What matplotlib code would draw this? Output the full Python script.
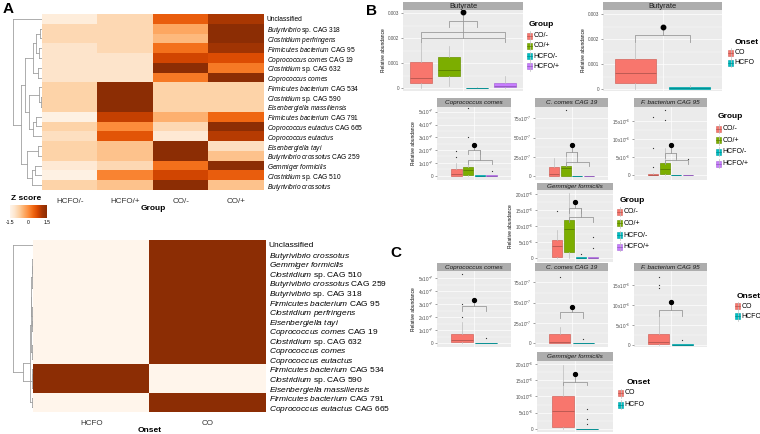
import numpy as np
import matplotlib
matplotlib.use("Agg")
import matplotlib.pyplot as plt
from matplotlib.colors import LinearSegmentedColormap, to_rgb
from matplotlib.patches import Rectangle

plt.rcParams.update({"font.family": "Liberation Sans", "mathtext.fontset": "custom",
                     "mathtext.rm": "Liberation Sans", "mathtext.it": "Liberation Sans:italic",
                     "mathtext.bf": "Liberation Sans:bold"})

# ---------------- data ----------------
GROUP_COLS = ["HCFO/-", "HCFO/+", "CO/-", "CO/+"]
TOP_ROWS = ["Unclassified",
            r"$\mathit{Butyrivibrio}$ sp. CAG 318",
            r"$\mathit{Clostridium\ perfringens}$",
            r"$\mathit{Firmicutes\ bacterium}$ CAG 95",
            r"$\mathit{Coprococcus\ comes}$ CAG 19",
            r"$\mathit{Clostridium}$ sp. CAG 632",
            r"$\mathit{Coprococcus\ comes}$",
            r"$\mathit{Firmicutes\ bacterium}$ CAG 534",
            r"$\mathit{Clostridium}$ sp. CAG 590",
            r"$\mathit{Eisenbergiella\ massiliensis}$",
            r"$\mathit{Firmicutes\ bacterium}$ CAG 791",
            r"$\mathit{Coprococcus\ eutactus}$ CAG 665",
            r"$\mathit{Coprococcus\ eutactus}$",
            r"$\mathit{Eisenbergiella\ tayi}$",
            r"$\mathit{Butyrivibrio\ crossotus}$ CAG 259",
            r"$\mathit{Gemmiger\ formicilis}$",
            r"$\mathit{Clostridium}$ sp. CAG 510",
            r"$\mathit{Butyrivibrio\ crossotus}$"]
Z_GROUP = [[-1.3, -0.9, 0.5, 1.1],
           [-0.9, -0.9, -0.3, 1.5],
           [-0.9, -0.9, -0.5, 1.5],
           [-1.1, -0.9, 0.3, 1.2],
           [-1.1, -1.1, 0.8, 0.7],
           [-1.1, -1.1, 1.5, 0.2],
           [-1.1, -1.1, 0.2, 1.5],
           [-0.8, 1.5, -0.8, -0.8],
           [-0.8, 1.5, -0.8, -0.8],
           [-0.8, 1.5, -0.8, -0.8],
           [-1.4, 0.9, -0.4, 0.4],
           [-0.8, 0.0, -0.9, 1.5],
           [-1.0, 0.6, -1.2, 1.0],
           [-0.8, -0.6, 1.5, -1.0],
           [-0.8, -0.6, 1.5, -0.6],
           [-1.2, -0.9, 0.3, 1.5],
           [-1.4, 0.1, 0.8, 0.5],
           [-0.8, -0.6, 1.5, -0.6]]
# linkage: (child a, child b, height), new nodes numbered from n
TOP_TREE = [(1, 2, 0.08), (3, 4, 0.12), (18, 19, 0.2), (5, 6, 0.15), (20, 21, 0.3),
            (8, 9, 0.04), (7, 23, 0.1), (10, 11, 0.2), (25, 12, 0.3), (24, 26, 0.45),
            (13, 14, 0.15), (15, 16, 0.25), (29, 17, 0.35), (28, 30, 0.5),
            (22, 27, 0.6), (32, 31, 0.72), (0, 33, 1.0)]

ONSET_COLS = ["HCFO", "CO"]
BOT_ROWS = ["Unclassified",
            r"$\mathit{Butyrivibrio\ crossotus}$",
            r"$\mathit{Gemmiger\ formicilis}$",
            r"$\mathit{Clostridium}$ sp. CAG 510",
            r"$\mathit{Butyrivibrio\ crossotus}$ CAG 259",
            r"$\mathit{Butyrivibrio}$ sp. CAG 318",
            r"$\mathit{Firmicutes\ bacterium}$ CAG 95",
            r"$\mathit{Clostridium\ perfringens}$",
            r"$\mathit{Eisenbergiella\ tayi}$",
            r"$\mathit{Coprococcus\ comes}$ CAG 19",
            r"$\mathit{Clostridium}$ sp. CAG 632",
            r"$\mathit{Coprococcus\ comes}$",
            r"$\mathit{Coprococcus\ eutactus}$",
            r"$\mathit{Firmicutes\ bacterium}$ CAG 534",
            r"$\mathit{Clostridium}$ sp. CAG 590",
            r"$\mathit{Eisenbergiella\ massiliensis}$",
            r"$\mathit{Firmicutes\ bacterium}$ CAG 791",
            r"$\mathit{Coprococcus\ eutactus}$ CAG 665"]
Z_ONSET = [[-1.5, 1.5]] * 13 + [[1.5, -1.5]] * 3 + [[-1.5, 1.5]] * 2
BOT_TREE = [(1, 2, 0.02), (18, 3, 0.04), (4, 5, 0.02), (19, 20, 0.06), (6, 7, 0.02),
            (8, 9, 0.03), (22, 23, 0.05), (21, 24, 0.08), (10, 11, 0.02), (26, 12, 0.04),
            (25, 27, 0.1), (16, 17, 0.05), (28, 29, 0.15), (13, 14, 0.03), (31, 15, 0.06),
            (30, 32, 0.5), (0, 33, 1.0)]

GROUPS = ["CO/-", "CO/+", "HCFO/-", "HCFO/+"]
ONSET = ["CO", "HCFO"]
GROUP_COLORS = ["#F8766D", "#7CAE00", "#00BFC4", "#C77CFF"]
ONSET_COLORS = ["#F8766D", "#00BFC4"]

# box stats per group: (whislo, q1, median, q3, whishi, outliers)
BUT_GROUP = [(0, 0.2, 0.4, 1.04, 1.85, []), (0.1, 0.48, 0.72, 1.24, 1.7, []),
             (0, 0, 0.01, 0.02, 0.03, []), (0, 0.03, 0.1, 0.2, 0.5, [])]          # x1e-3
BUT_ONSET = [(0, 0.25, 0.66, 1.2, 1.85, []), (0, 0, 0.03, 0.1, 0.15, [])]           # x1e-3
CC_GROUP = [(0, 0, 0.1, 0.5, 1.0, [1.45, 1.95]), (0, 0.05, 0.45, 0.65, 1.2, [3.0, 5.3]),
            (0, 0, 0, 0.02, 0.02, []), (0, 0, 0, 0.02, 0.02, [0.4])]              # x1e-7
CC19_GROUP = [(0, 0, 2, 11.3, 23, []), (0, 0.5, 11, 12.6, 25, [86]),
              (0, 0, 0, 0.3, 0.3, []), (0, 0, 0, 0.3, 0.3, [])]                   # x1e-7
FB95_GROUP = [(0, 0, 0.1, 0.3, 0.5, [2.2, 7.6, 16]), (0, 0.3, 1.7, 3.3, 7.5, [15.3, 18]),
              (0, 0, 0, 0.1, 0.1, []), (0, 0, 0, 0.1, 0.1, [4.4])]               # x1e-6
GF_GROUP = [(0, 0.5, 3.8, 5.7, 8.8, [14.9]), (0, 2.1, 9.2, 12, 20.4, []),
            (0, 0, 0.1, 0.3, 0.3, [1.3]), (0, 0, 0.1, 0.3, 0.3, [3.2, 6.6])]      # x1e-6
CC_ONSET = [(0, 0.05, 0.25, 0.7, 1.6, [2.0, 3.0, 5.3]), (0, 0, 0, 0.02, 0.02, [0.4])]
CC19_ONSET = [(0, 0.5, 2, 12, 20, [82]), (0, 0, 0, 0.3, 0.3, [5])]
FB95_ONSET = [(0, 0.2, 0.7, 2.7, 7.5, [14.3, 15, 17]), (0, 0, 0.05, 0.2, 0.2, [1.2])]
GF_ONSET = [(0, 0.7, 5.5, 10.1, 19.7, []), (0, 0, 0.05, 0.1, 0.1, [1.5, 3.0, 6.1])]

E7 = ["0"] + [r"$\mathregular{%dx10^{-7}}$" % v for v in (1, 2, 3, 4, 5)]
E7b = ["0"] + [r"$\mathregular{%dx10^{-7}}$" % v for v in (25, 50, 75)]
E6 = ["0"] + [r"$\mathregular{%dx10^{-6}}$" % v for v in (5, 10, 15)]
E6b = ["0"] + [r"$\mathregular{%dx10^{-6}}$" % v for v in (5, 10, 15, 20)]
BUT_TICKS = ["0", "0.001", "0.002", "0.003"]

# ---------------- figure ----------------
W, H = 760, 434
fig = plt.figure(figsize=(7.6, 4.34), dpi=100)


def box(x0, y0, x1, y1):
    return fig.add_axes([x0 / W, 1 - y1 / H, (x1 - x0) / W, (y1 - y0) / H])


def dark(c, f=0.72):
    return tuple(v * f for v in to_rgb(c))


cmap = LinearSegmentedColormap.from_list(
    "z", ["#FFF5EB", "#FEE6CE", "#FDD0A2", "#FDAE6B", "#FD8D3C", "#F16913", "#D94801", "#A63603", "#8C2D04"])


def heat(rect, Z, cols, rows, xlab, fs):
    ax = box(*rect)
    ax.imshow(np.array(Z), cmap=cmap, vmin=-1.5, vmax=1.5, aspect="auto", interpolation="nearest")
    ax.set_xticks(range(len(cols)))
    ax.set_xticklabels(cols, fontsize=5.8, color="#333333")
    ax.set_yticks(range(len(rows)))
    ax.set_yticklabels(rows, fontsize=fs)
    ax.yaxis.tick_right()
    ax.tick_params(length=0, pad=2)
    ax.tick_params(axis="x", pad=6)
    ax.set_xlabel(xlab, fontsize=6, fontweight="bold", labelpad=0)
    for s in ax.spines.values():
        s.set_visible(False)
    return ax


def dendro(rect, merges, n):
    ax = box(*rect)
    pos = {i: float(i) for i in range(n)}
    hgt = {i: 0.0 for i in range(n)}
    for k, (a, b, h) in enumerate(merges):
        for c in (a, b):
            ax.plot([hgt[c], h], [pos[c], pos[c]], color="#A0A0A0", lw=0.6)
        ax.plot([h, h], [pos[a], pos[b]], color="#A0A0A0", lw=0.6)
        pos[n + k] = (pos[a] + pos[b]) / 2
        hgt[n + k] = h
    ax.set_xlim(1.03, 0)
    ax.set_ylim(n - 0.5, -0.5)
    ax.axis("off")


# panel A
heat((42, 14, 264, 190), Z_GROUP, GROUP_COLS, TOP_ROWS, "Group", 4.8)
dendro((12, 14, 42, 190), TOP_TREE, 18)
heat((33, 240, 266, 412), Z_ONSET, ONSET_COLS, BOT_ROWS, "Onset", 6.0)
dendro((12, 240, 33, 412), BOT_TREE, 18)

cb = box(10, 205, 47, 218)
cb.imshow(np.linspace(-1.5, 1.5, 200)[None, :], cmap=cmap, aspect="auto", extent=(-1.5, 1.5, 0, 1))
cb.set_yticks([])
cb.set_xticks([-1.5, 0, 1.5])
cb.set_xticklabels(["-1.5", "0", "1.5"], fontsize=3.6)
cb.tick_params(axis="x", length=0, pad=1.5)
for s in cb.spines.values():
    s.set_visible(False)


def panel(rect, strip, title, stats, colors, spread, wfac, ylim, ticks, labels,
          brackets, dot, ylabel=False, big=False):
    x0, y0, x1, y1 = rect
    ax = box(x0, y0, x1, y1)
    ax.set_facecolor("#EBEBEB")
    n = len(stats)
    pos = 1 + (np.arange(n) - (n - 1) / 2) * spread
    st = [dict(whislo=s[0], q1=s[1], med=s[2], q3=s[3], whishi=s[4], fliers=s[5]) for s in stats]
    art = ax.bxp(st, positions=pos, widths=spread * wfac, patch_artist=True, showcaps=False,
                 manage_ticks=False,
                 flierprops=dict(marker="o", ms=0.9, mfc="#333333", mec="none"),
                 whiskerprops=dict(color="#BDBDBD", lw=0.5),
                 medianprops=dict(lw=0.6), boxprops=dict(lw=0.5))
    for p, m, c in zip(art["boxes"], art["medians"], colors):
        p.set_facecolor(c)
        p.set_edgecolor(dark(c, 0.85))
        m.set_color(dark(c))
    for k, (a, b, y, leg) in enumerate(brackets):
        xa, xb = pos[a], pos[b]
        ax.plot([xa, xa, xb, xb], [y - leg, y, y, y - leg], color="#9A9A9A", lw=0.6)
        xc = (xa + xb) / 2
        top = brackets[k + 1][2] if k + 1 < len(brackets) else dot
        ax.plot([xc, xc], [y, top], color="#9A9A9A", lw=0.6)
    ax.plot([xc], [dot], "o", ms=3.2 if big else 2.8, color="black")
    ax.set_xlim(0.4, 1.6)
    ax.set_ylim(*ylim)
    ax.set_xticks([1])
    ax.set_xticklabels([])
    ax.set_yticks(ticks)
    ax.set_yticklabels(labels)
    ax.set_yticks([(a + b) / 2 for a, b in zip(ticks[:-1], ticks[1:])], minor=True)
    ax.grid(which="major", color="white", lw=0.5)
    ax.grid(which="minor", axis="y", color="white", lw=0.25)
    ax.set_axisbelow(True)
    ax.tick_params(axis="x", length=0)
    ax.tick_params(axis="y", which="major", length=1.5, width=0.4, color="#555555",
                   labelsize=3.3, pad=1, labelcolor="#4D4D4D")
    ax.tick_params(axis="y", which="minor", length=0)
    for s in ax.spines.values():
        s.set_visible(False)
    if ylabel:
        ax.set_ylabel("Relative abundance", fontsize=3.5, labelpad=1.5)
    sa = box(x0, strip, x1, y0)
    sa.set_facecolor("#ADADAD")
    sa.set_xticks([])
    sa.set_yticks([])
    for s in sa.spines.values():
        s.set_visible(False)
    sa.text(0.5, 0.45, title, ha="center", va="center", fontsize=5.4 if big else 4.6,
            style="normal" if big else "italic", color="#1A1A1A", transform=sa.transAxes)
    return ax


# panel B
panel((403, 10, 523, 91), 2, "Butyrate", BUT_GROUP, GROUP_COLORS, 0.28, 0.78, (-0.12, 3.12),
      [0, 1, 2, 3], BUT_TICKS, [(0, 3, 2.0, 0.15), (0, 3, 2.25, 0.2), (1, 2, 2.7, 0.25)], 3.05,
      ylabel=True, big=True)
panel((603, 10, 722, 91), 2, "Butyrate", BUT_ONSET, ONSET_COLORS, 0.55, 0.75, (-0.08, 3.16),
      [0, 1, 2, 3], BUT_TICKS, [(0, 1, 2.15, 0.25)], 2.5, ylabel=True, big=True)
panel((437, 107, 511, 180), 98, "Coprococcus comes", CC_GROUP, GROUP_COLORS, 0.19, 0.9,
      (-0.34, 5.37), [0, 1, 2, 3, 4, 5], E7, [(1, 3, 1.23, 0.35), (1, 2, 2.0, 0.3)], 2.4,
      ylabel=True)
panel((535, 107, 608, 180), 98, "C. comes CAG 19", CC19_GROUP, GROUP_COLORS, 0.19, 0.9,
      (-5.2, 89.8), [0, 25, 50, 75], E7b, [(1, 3, 18.6, 5), (1, 2, 31.6, 5)], 40)
panel((634, 107, 707, 180), 98, "F. bacterium CAG 95", FB95_GROUP, GROUP_COLORS, 0.19, 0.9,
      (-1.4, 18.9), [0, 5, 10, 15], E6, [(1, 3, 4.2, 1.2), (1, 2, 6.0, 1.2)], 8.3)
panel((537, 190, 613, 262), 183, "Gemmiger formicilis", GF_GROUP, GROUP_COLORS, 0.19, 0.9,
      (-1.16, 21.3), [0, 5, 10, 15, 20], E6b, [(1, 3, 12.9, 1.5), (1, 2, 15.7, 1.5)], 17.7,
      ylabel=True)

# panel C
panel((437, 271, 511, 347), 263, "Coprococcus comes", CC_ONSET, ONSET_COLORS, 0.39, 0.88,
      (-0.3, 5.55), [0, 1, 2, 3, 4, 5], E7, [(0, 1, 2.85, 0.4)], 3.3, ylabel=True)
panel((535, 271, 608, 347), 263, "C. comes CAG 19", CC19_ONSET, ONSET_COLORS, 0.39, 0.88,
      (-4.6, 89), [0, 25, 50, 75], E7b, [(0, 1, 38, 7)], 45)
panel((634, 271, 707, 347), 263, "F. bacterium CAG 95", FB95_ONSET, ONSET_COLORS, 0.39, 0.88,
      (-0.5, 18.5), [0, 5, 10, 15], E6, [(0, 1, 8.7, 1.5)], 10.8)
panel((537, 361, 613, 432), 352, "Gemmiger formicilis", GF_ONSET, ONSET_COLORS, 0.39, 0.88,
      (-0.92, 20.9), [0, 5, 10, 15, 20], E6b, [(0, 1, 14.4, 1.0)], 17)

# overlay for labels and legends (pixel coordinates)
ov = fig.add_axes([0, 0, 1, 1])
ov.set_xlim(0, W)
ov.set_ylim(H, 0)
ov.axis("off")
ov.patch.set_alpha(0)

ov.text(3, 9, "A", fontsize=11, fontweight="bold", va="center")
ov.text(366, 11, "B", fontsize=11, fontweight="bold", va="center")
ov.text(390, 253, "C", fontsize=11, fontweight="bold", va="center")
ov.text(11, 199, "Z score", fontsize=6, fontweight="bold", va="center")


def legend(tx, ty, kx, title, labels, colors, y0, dy):
    ov.text(tx, ty, title, fontsize=6, fontweight="bold", va="center")
    for i, (lab, c) in enumerate(zip(labels, colors)):
        yy = y0 + i * dy
        ov.plot([kx + 2.5, kx + 2.5], [yy - 4.5, yy + 4.5], color="#BDBDBD", lw=0.5)
        ov.add_patch(Rectangle((kx, yy - 3), 5, 6, facecolor=c, edgecolor=dark(c, 0.85), lw=0.4))
        ov.plot([kx, kx + 5], [yy, yy], color=dark(c), lw=0.5)
        ov.text(kx + 6.5, yy, lab, fontsize=5, va="center")


legend(529, 25, 527, "Group", GROUPS, GROUP_COLORS, 35.5, 10.3)
legend(735, 43, 728, "Onset", ONSET, ONSET_COLORS, 52.5, 10)
legend(718, 117, 716, "Group", GROUPS, GROUP_COLORS, 128.5, 11.7)
legend(620, 201, 617, "Group", GROUPS, GROUP_COLORS, 211.5, 11.8)
legend(737, 296, 735, "Onset", ONSET, ONSET_COLORS, 306, 10)
legend(627, 382, 618, "Onset", ONSET, ONSET_COLORS, 393, 11.5)

fig.savefig("out.png", dpi=100)
